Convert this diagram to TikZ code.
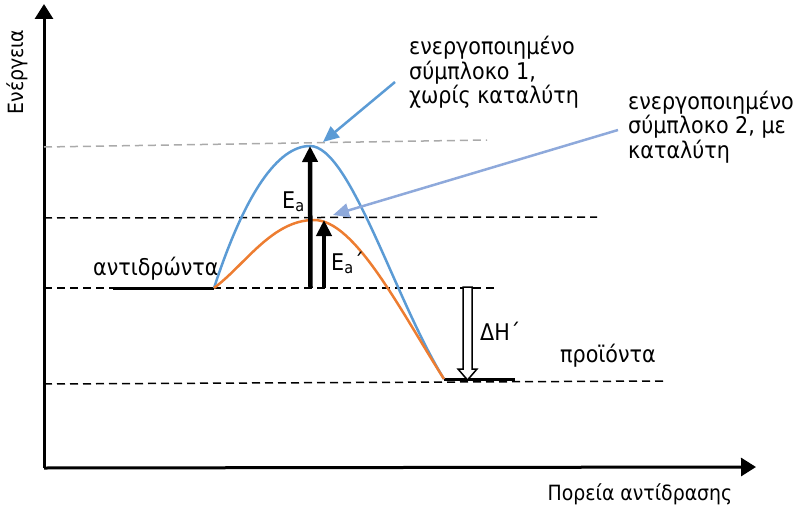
\documentclass[tikz,border=0pt]{standalone}
\usepackage{fontspec}
\setmainfont{DejaVu Sans Condensed}
\usetikzlibrary{arrows.meta}
\definecolor{curveblue}{RGB}{91,155,213}
\definecolor{curveorange}{RGB}{237,125,49}
\definecolor{pointblue}{RGB}{142,169,219}
\definecolor{levelgray}{RGB}{170,170,170}
\tikzset{
  axis/.style={line width=3pt,-{Triangle[length=15pt,width=18pt]}},
  level/.style={line width=1.5pt,dash pattern=on 8pt off 5pt},
  state/.style={line width=3pt},
  barrier/.style={line width=4.5pt,-{Triangle[length=16pt,width=15pt]}},
  pointer/.style={line width=2.5pt,-{Triangle[length=16pt,width=14pt]}},
  label/.style={anchor=base west,inner sep=0pt,align=left},
  axislabel/.style={font=\fontsize{21}{24}\selectfont},
}
\begin{document}
\begin{tikzpicture}[x=1pt,y=-1pt,font=\fontsize{23}{24.5}\selectfont]
    \useasboundingbox (0,0) rectangle (800,508);
    % Axes
    \coordinate (O) at (44,468);
    \coordinate (ytop) at (44,4);
    \coordinate (xend) at (756,467);
    \draw[axis] (O) -- (ytop);
    \draw[axis] (O) -- (xend);
    \node[axislabel,rotate=90] (ylab) at (17,72) {Ενέργεια};
    \node[axislabel] (xlab) at (640,494) {Πορεία αντίδρασης};
    % Energy levels
    \draw[level,levelgray] (44,147) -- (487,140);
    \draw[level] (44,218) -- (597,217);
    \draw[level] (44,288) -- (497,288);
    \draw[level] (44,384) -- (665,381);
    % Reactants and products
    \coordinate (r1) at (113,288);
    \coordinate (r2) at (214,288);
    \coordinate (p1) at (444,379);
    \coordinate (p2) at (515,379);
    \draw[state] (r1) -- (r2);
    \draw[state] (p1) -- (p2);
    \node[label] (react) at (93,275) {αντιδρώντα};
    \node[label] (prod) at (560,362) {προϊόντα};
    % Curves
    \coordinate (top1) at (310,146);
    \coordinate (top2) at (314,220);
    \draw[curveblue,line width=2.5pt] (r2) .. controls (245,193) and (278,146) .. (top1)
        .. controls (350,146) and (395,300) .. (p1);
    \draw[curveorange,line width=2.5pt] (r2) .. controls (245,265) and (272,220) .. (top2)
        .. controls (355,220) and (400,310) .. (p1);
    % Activation energies
    \draw[barrier] (310.5,288) -- (top1);
    \draw[barrier] (324,288) -- (324,220);
    \node[label] (ea) at (282,208) {E\textsubscript{a}};
    \node[label] (eab) at (331,270) {E\textsubscript{a}´};
    % Enthalpy
    \draw[line width=1.5pt,fill=white] (463,287) -- (472,287) -- (472,369) -- (477,369)
        -- (467.5,380) -- (458,369) -- (463,369) -- cycle;
    \node[label] (dh) at (480,340) {ΔΗ´};
    % Activated complexes
    \node[label] (tc1) at (409,104) {ενεργοποιημένο\\σύμπλοκο 1,\\χωρίς καταλύτη};
    \node[label] (tc2) at (628,158) {ενεργοποιημένο\\σύμπλοκο 2, με\\καταλύτη};
    \coordinate (c1) at (395,82);
    \coordinate (c2) at (618,130);
    \draw[pointer,curveblue] (c1) -- (323,142);
    \draw[pointer,pointblue] (c2) -- (333,215);
\end{tikzpicture}
\end{document}
